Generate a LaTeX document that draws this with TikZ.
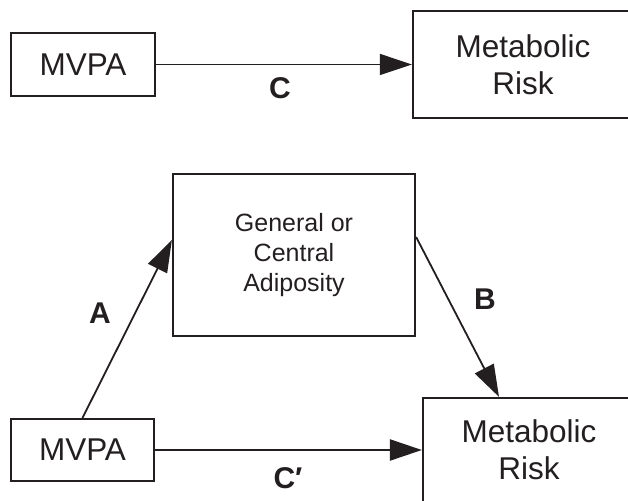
\documentclass[tikz,border=0pt]{standalone}
\usepackage{fontspec}
\setmainfont{Liberation Sans}
\usetikzlibrary{arrows.meta,calc}
\definecolor{ink}{RGB}{35,31,32}
\tikzset{
  boxnode/.style={draw=ink, line width=2.2pt, inner sep=0pt, align=center, text=ink,
                  font=\fontsize{31.5}{37}\selectfont},
  lbl/.style={text=ink, font=\fontsize{30}{36}\selectfont\bfseries, inner sep=0pt},
  conn/.style={draw=ink, line width=1.8pt, -{Triangle[length=32pt,width=21pt]}}
}
\begin{document}
\begin{tikzpicture}[x=1pt,y=1pt]
\useasboundingbox (0,0) rectangle (628,500);
% top panel
\node[boxnode, minimum width=144pt, minimum height=63pt] (mvpa1) at (83,435.5) {MVPA};
\node[boxnode, minimum width=220pt, minimum height=107pt] (met1) at (523,435.5) {Metabolic\\Risk};
\draw[conn, line width=1.5pt] (mvpa1.east) -- (met1.west);
\node[lbl] (c1) at (280,412) {C};
% bottom panel
\node[boxnode, minimum width=242pt, minimum height=162pt, font=\fontsize{25}{30}\selectfont] (adip) at (294,245) {General or\\Central\\Adiposity};
\node[boxnode, minimum width=143pt, minimum height=62pt] (mvpa2) at (82.5,50) {MVPA};
\node[boxnode, minimum width=212pt, minimum height=104pt] (met2) at (529,50) {Metabolic\\Risk};
\coordinate (aend) at ($(adip.west)+(0,15)$);
\coordinate (bstart) at ($(adip.east)+(0,18)$);
\coordinate (bend) at ($(met2.north)+(-30,0)$);
\draw[conn] (mvpa2.north) -- (aend);
\draw[conn] (bstart) -- (bend);
\draw[conn, line width=2.3pt] (mvpa2.east) -- (met2.west);
\node[lbl] (a) at (100,187) {A};
\node[lbl] (b) at (485,201) {B};
\node[lbl] (c2) at (288,22) {C\char"2032};
\end{tikzpicture}
\end{document}
